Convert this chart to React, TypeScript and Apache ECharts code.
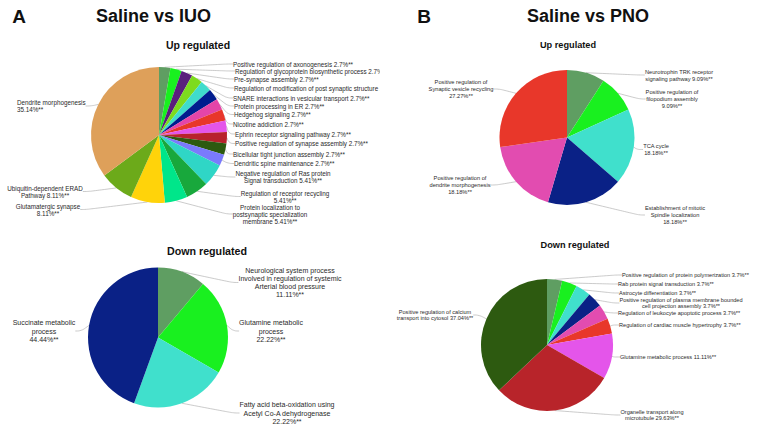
import React, { useEffect, useRef } from "react";
import * as echarts from "echarts";

// ---------- DATA ----------
// Saline vs IUO – Up regulated
const upIuoNames = [
  "Positive regulation of axonogenesis {v}",
  "Regulation of glycoprotein biosynthetic process {v}",
  "Pre-synapse assembly {v}",
  "Regulation of modification of post synaptic structure {v}",
  "SNARE interactions in vesicular transport {v}",
  "Protein processing in ER {v}",
  "Hedgehog signaling {v}",
  "Nicotine addiction {v}",
  "Ephrin receptor signaling pathway {v}",
  "Positive regulation of synapse assembly {v}",
  "Bicellular tight junction assembly {v}",
  "Dendritic spine maintenance {v}",
  "Negative regulation of Ras protein\nSignal transduction {v}",
  "Regulation of receptor recycling\n{v}",
  "Protein localization to\npostsynaptic specialization\nmembrane {v}",
  "Glutamatergic synapse\n{v}",
  "Ubiquitin-dependent ERAD\nPathway {v}",
  "Dendrite morphogenesis\n{v}",
];
const upIuoValues = [2.7, 2.7, 2.7, 2.7, 2.7, 2.7, 2.7, 2.7, 2.7, 2.7, 2.7, 2.7, 5.41, 5.41, 5.41, 8.11, 8.11, 35.14];

// Saline vs IUO – Down regulated
const downIuoNames = [
  "Neurological system process\nInvolved in regulation of systemic\nArterial blood pressure\n{v}",
  "Glutamine metabolic\nprocess\n{v}",
  "Fatty acid beta-oxidation using\nAcetyl Co-A dehydrogenase\n{v}",
  "Succinate metabolic\nprocess\n{v}",
];
const downIuoValues = [11.11, 22.22, 22.22, 44.44];

// Saline vs PNO – Up regulated
const upPnoNames = [
  "Neurotrophin TRK receptor\nsignaling pathway {v}",
  "Positive regulation of\nfilopodium assembly\n{v}",
  "TCA cycle\n{v}",
  "Establishment of mitotic\nSpindle localization\n{v}",
  "Positive regulation of\ndendrite morphogenesis\n{v}",
  "Positive regulation of\nSynaptic vesicle recycling\n{v}",
];
const upPnoValues = [9.09, 9.09, 18.18, 18.18, 18.18, 27.27];

// Saline vs PNO – Down regulated
const downPnoNames = [
  "Positive regulation of protein polymerization {v}",
  "Rab protein signal transduction {v}",
  "Astrocyte differentiation {v}",
  "Positive regulation of plasma membrane bounded\ncell projection assembly {v}",
  "Regulation of leukocyte apoptotic process {v}",
  "Regulation of cardiac muscle hypertrophy {v}",
  "Glutamine metabolic process {v}",
  "Organelle transport along\nmicrotubule {v}",
  "Positive regulation of calcium\ntransport into cytosol {v}",
];
const downPnoValues = [3.7, 3.7, 3.7, 3.7, 3.7, 3.7, 11.11, 29.63, 37.04];

// ---------- STYLE / LAYOUT ----------
const upIuoColors = [
  "#5f9e62", "#19f01f", "#5a1f7c", "#7ddb1e", "#3fdccc", "#001c8e",
  "#e445a8", "#e8362a", "#e455ea", "#b8222c", "#2d5a10", "#7a7afc",
  "#2fd6c6", "#18a83c", "#00e68a", "#ffd30a", "#6caa1a", "#dea05a",
];
const downIuoColors = ["#5f9e62", "#19f01f", "#40e0cc", "#0a2186"];
const upPnoColors = ["#5f9e62", "#19f01f", "#40e0cc", "#0a2186", "#e24cb0", "#e8372a"];
const downPnoColors = ["#5f9e62", "#19f01f", "#40e0cc", "#0a2186", "#e24cb0", "#e8372a", "#e455ea", "#b8242a", "#2d5a10"];

type Pos = [number, number, string];
const upIuoPos: Pos[] = [
  [233, 64, "left"], [235, 71, "left"], [234, 79, "left"], [234, 88, "left"],
  [233, 98, "left"], [234, 106, "left"], [234, 114.5, "left"], [233, 124, "left"],
  [235, 134, "left"], [235, 143.5, "left"], [233, 154, "left"], [234, 163.5, "left"],
  [283, 177, "center"], [285, 196.5, "center"], [270, 214, "center"],
  [48, 209.5, "center"], [45, 191.5, "center"], [17, 106, "left"],
];
const downIuoPos: Pos[] = [
  [290, 282.5, "center"], [271, 331, "center"], [287, 413, "center"], [44, 331, "center"],
];
const upPnoPos: Pos[] = [
  [299, 75, "center"], [292, 99, "center"], [276, 149.5, "center"],
  [295, 215, "center"], [80, 185, "center"], [81, 89, "center"],
];
const downPnoPos: Pos[] = [
  [242, 275, "left"], [238, 284, "left"], [239, 293, "left"], [301, 303, "center"],
  [238, 313, "left"], [239, 325, "left"], [240, 357, "left"], [272, 415, "center"],
  [55, 315, "center"],
];

const FONT = "'Liberation Sans', Arial, sans-serif";

function pieSeries(
  names: string[], values: number[], colors: string[], pos: Pos[],
  center: [number, number], radius: number, fontSize: number, lineHeight: number
) {
  return {
    type: "pie",
    center,
    radius,
    startAngle: 90,
    clockwise: true,
    avoidLabelOverlap: false,
    data: values.map((v, i) => ({
      value: v,
      name: names[i],
      itemStyle: { color: colors[i] },
    })),
    label: {
      show: true,
      position: "outside",
      fontSize,
      lineHeight,
      fontFamily: FONT,
      color: "#2a2a2a",
      formatter: (p: any) => String(p.name).replace("{v}", p.value + "%**"),
    },
    labelLine: {
      show: true,
      length: 8,
      length2: 6,
      smooth: 0.4,
      lineStyle: { color: "#a8a8a8", width: 0.6 },
    },
    labelLayout: (params: any) => {
      const p = pos[params.dataIndex];
      return { x: p[0], y: p[1], align: p[2], verticalAlign: "middle", hideOverlap: false };
    },
    emphasis: { disabled: true },
  };
}

function titleText(text: string, x: number, y: number, size: number) {
  return {
    type: "text",
    x,
    y,
    style: {
      text,
      fontSize: size,
      fontWeight: "bold",
      fontFamily: FONT,
      fill: "#111",
      align: "center",
      verticalAlign: "middle",
    },
  };
}

export default function App() {
  const leftRef = useRef<HTMLDivElement>(null);
  const rightRef = useRef<HTMLDivElement>(null);

  useEffect(() => {
    const left = echarts.init(leftRef.current!, undefined, { renderer: "svg" });
    const right = echarts.init(rightRef.current!, undefined, { renderer: "svg" });

    left.setOption({
      animation: false,
      backgroundColor: "#fff",
      graphic: [
        titleText("A", 19, 16, 19),
        titleText("Saline vs IUO", 153.5, 16, 18),
        titleText("Up regulated", 198, 45, 10.5),
        titleText("Down regulated", 207, 251, 10.7),
      ],
      series: [
        pieSeries(upIuoNames, upIuoValues, upIuoColors, upIuoPos, [159, 135], 68, 6.3, 7),
        pieSeries(downIuoNames, downIuoValues, downIuoColors, downIuoPos, [158, 337.5], 70, 7.0, 8.3),
      ],
    });

    right.setOption({
      animation: false,
      backgroundColor: "#fff",
      graphic: [
        titleText("B", 44, 16, 19),
        titleText("Saline vs PNO", 208, 16, 18),
        titleText("Up regulated", 188, 45, 9.2),
        titleText("Down regulated", 195, 245, 9.2),
      ],
      series: [
        pieSeries(upPnoNames, upPnoValues, upPnoColors, upPnoPos, [187, 137.5], 67.5, 5.7, 7),
        pieSeries(downPnoNames, downPnoValues, downPnoColors, downPnoPos, [167, 345], 66, 5.6, 6.5),
      ],
    });

    return () => {
      left.dispose();
      right.dispose();
    };
  }, []);

  return (
    <div style={{ position: "absolute", left: 0, top: 0, width: 757, height: 429, background: "#fff" }}>
      <div ref={leftRef} style={{ position: "absolute", left: 0, top: 0, width: 380, height: 429, overflow: "hidden" }} />
      <div ref={rightRef} style={{ position: "absolute", left: 380, top: 0, width: 377, height: 429, overflow: "hidden" }} />
    </div>
  );
}
